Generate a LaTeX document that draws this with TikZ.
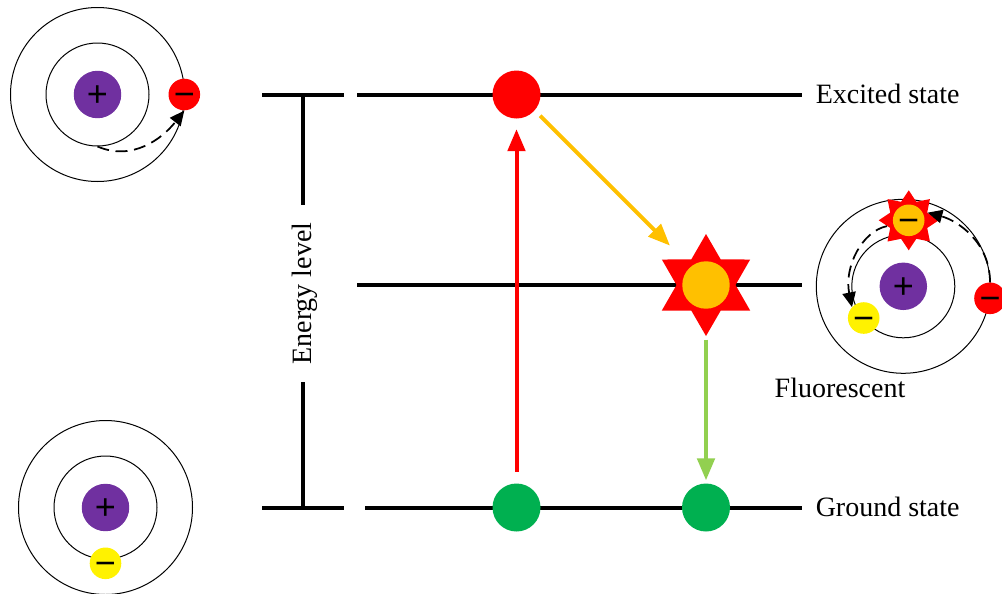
\documentclass[tikz,border=0pt]{standalone}
\usepackage{fontspec}
\setmainfont{Liberation Serif}
\newfontfamily\signfont{Liberation Sans}
\usetikzlibrary{arrows.meta,shapes.geometric}
\definecolor{nucleuspurple}{HTML}{7030A0}
\definecolor{groundgreen}{HTML}{00B050}
\definecolor{amberdot}{HTML}{FFC000}
\definecolor{emitgreen}{HTML}{92D050}
% Charge sign centred on its node, whatever the glyph's own box
\newcommand{\chargesign}[1]{\makebox[0pt]{\raisebox{-9.1pt}[0pt][0pt]{\fontsize{27}{27}\signfont #1}}}
\tikzset{
  orbitouter/.style={circle,draw=black,line width=0.75pt,minimum size=130.5pt,inner sep=0pt},
  orbitinner/.style={circle,draw=black,line width=0.75pt,minimum size=77.25pt,inner sep=0pt},
  nucleus/.style={circle,fill=nucleuspurple,minimum size=35.6pt,inner sep=0pt},
  electron/.style={circle,minimum size=23.7pt,inner sep=0pt},
  leveldot/.style={circle,minimum size=36pt,inner sep=0pt},
  starbig/.style={star,star points=6,star point ratio=1.73,fill=red,minimum size=76.5pt,inner sep=0pt},
  starsmall/.style={star,star points=8,star point ratio=1.5,fill=red,minimum size=45pt,inner sep=0pt},
  level/.style={line width=3pt},
  transition/.style={line width=3pt,-{Triangle[length=16.5pt,width=13pt]}},
  jump/.style={line width=1.3pt,dash pattern=on 9pt off 5pt,-{Triangle[length=11pt,width=10pt]}},
  caption/.style={font=\fontsize{21}{24}\selectfont,inner sep=0pt}
}
\begin{document}
\begin{tikzpicture}[x=0.75pt,y=-0.75pt]
\useasboundingbox (0,0) rectangle (1002,593);

% Energy levels
\coordinate (exA) at (262,94.5);  \coordinate (exB) at (344,94.5);
\coordinate (exC) at (357,94.5);  \coordinate (exD) at (802,94.5);
\coordinate (miC) at (357,285);   \coordinate (miD) at (802,285);
\coordinate (grA) at (262,507.5); \coordinate (grB) at (344,507.5);
\coordinate (grC) at (365,507.5); \coordinate (grD) at (802,507.5);
\draw[level] (exA) -- (exB);
\draw[level] (exC) -- (exD);
\draw[level] (miC) -- (miD);
\draw[level] (grA) -- (grB);
\draw[level] (grC) -- (grD);

% Energy axis, broken around its label
\coordinate (axT) at (303,93);
\coordinate (axB) at (303,509);
\node[caption,rotate=90,minimum width=132.75pt] (axis) at (305,293.5) {Energy level};
\draw[level] (axT) -- (axis.east -| axT);
\draw[level] (axis.west -| axB) -- (axB);

% Level captions
\node[caption,anchor=west] (lblEx) at (815.5,94) {Excited state};
\node[caption,anchor=west] (lblGr) at (815.5,507) {Ground state};
\node[caption] (lblFl) at (840,388) {Fluorescent};

% Electron positions on the levels
\node[leveldot,fill=red] (ex) at (516.5,94.5) {};
\node[leveldot,fill=groundgreen] (g1) at (516.5,507.5) {};
\node[leveldot,fill=groundgreen] (g2) at (706,507.5) {};
\node[starbig] (burst) at (706,285) {};
\node[circle,fill=amberdot,minimum size=35.6pt,inner sep=0pt] (core) at (706,285) {};

% Transitions between levels
\draw[transition,red,shorten <=8.6pt,shorten >=7.8pt] (g1.north) -- (ex.south);
\draw[transition,amberdot,shorten <=5.7pt,shorten >=14.4pt] (ex.-41) -- (burst.131);
\draw[transition,emitgreen,shorten <=2.4pt,shorten >=2.2pt] (burst.south) -- (g2.north);

% Atom in the excited state
\node[orbitouter] (aOut) at (97.5,94.5) {};
\node[orbitinner] (aIn) at (97.5,94.5) {};
\node[nucleus] (aNuc) at (97.5,94.5) {\chargesign{+}};
\node[electron,fill=red] (aEl) at (184.3,94.5) {\chargesign{−}};
\draw[jump] (aIn.south) .. controls +(35,15) and +(-22,28) .. (aEl.south);

% Atom in the ground state
\node[orbitouter] (bOut) at (105.5,507.5) {};
\node[orbitinner] (bIn) at (105.5,507.5) {};
\node[nucleus] (bNuc) at (105.5,507.5) {\chargesign{+}};
\node[electron,fill=yellow] (bEl) at (105.5,563.3) {\chargesign{−}};

% Atom relaxing through the intermediate level
\node[orbitouter] (cOut) at (903.3,286.3) {};
\node[orbitinner] (cIn) at (903.3,286.3) {};
\node[nucleus] (cNuc) at (903.3,286.3) {\chargesign{+}};
\node[electron,fill=red] (cEx) at (990,298.3) {\chargesign{−}};
\node[electron,fill=yellow] (cGr) at (863.7,318) {\chargesign{−}};
\node[starsmall] (cBurst) at (908.7,220.3) {};
\node[electron,fill=amberdot] (cMid) at (908.7,220.3) {\chargesign{−}};
\draw[jump] (cEx.north) .. controls +(0,-40) and +(30,8) .. (cBurst.22);
\draw[jump] (cBurst.195) .. controls +(-25,5) and +(-8,-40) .. (cGr.137);
\end{tikzpicture}
\end{document}
